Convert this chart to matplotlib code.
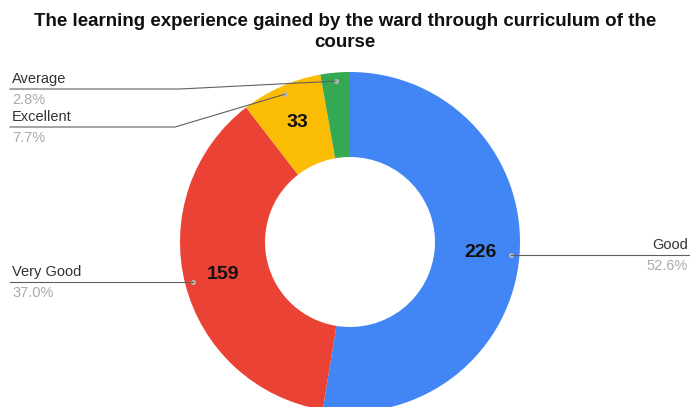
import numpy as np
import matplotlib
matplotlib.use("Agg")
import matplotlib.pyplot as plt
from matplotlib.lines import Line2D

plt.rcParams['font.family'] = ['Liberation Sans', 'DejaVu Sans']

# Data
categories = ["Good", "Very Good", "Excellent", "Average"]
values = [226, 159, 33, 12]
colors = ["#4285F4", "#EA4335", "#FBBC04", "#34A853"]
title = "The learning experience gained by the ward through curriculum of the\ncourse"

W, H = 690, 407
fig = plt.figure(figsize=(W / 100, H / 100), dpi=100)


def fx(x):
    return x / W


def fy(y):
    return 1 - y / H


# donut: centre (350, 242) px, radius 170 px
ax = fig.add_axes([fx(180), fy(412), 340 / W, 340 / H])
ax.axis("off")

wedges, _ = ax.pie(
    values,
    colors=colors,
    startangle=90,
    counterclock=False,
    radius=1,
    wedgeprops=dict(width=0.5, linewidth=0),
)
ax.set_xlim(-1, 1)
ax.set_ylim(-1, 1)
ax.set_aspect("auto")

# value labels inside ring
for w, v in zip(wedges, values):
    if v < 20:
        continue
    ang = np.deg2rad((w.theta1 + w.theta2) / 2)
    ax.text(0.77 * np.cos(ang), 0.77 * np.sin(ang), str(v), ha="center", va="center",
            fontsize=14, fontweight="bold", color="#111111")

fig.canvas.draw()
total = sum(values)

# leader lines and outside labels (side, knee x, line y; None -> dot y)
layout = {
    "Good": ("right", None, None),
    "Very Good": ("left", None, None),
    "Excellent": ("left", 175, 127),
    "Average": ("left", 180, 89),
}

for w, name, v in zip(wedges, categories, values):
    ang = np.deg2rad((w.theta1 + w.theta2) / 2)
    dx, dy = ax.transData.transform((0.95 * np.cos(ang), 0.95 * np.sin(ang)))
    dot_x, dot_y = dx, H - dy
    side, knee_x, line_y = layout[name]
    if line_y is None:
        line_y = dot_y
    if knee_x is None:
        knee_x = dot_x
    fig.add_artist(Line2D([fx(dot_x)], [fy(dot_y)], marker="o", markersize=2.5,
                          color="#b8b8b8", linestyle="none"))
    if side == "right":
        xs = [dot_x, knee_x, W]
        tx, ha = W - 2, "right"
    else:
        xs = [dot_x, knee_x, 10]
        tx, ha = 12, "left"
    ys = [dot_y, line_y, line_y]
    fig.add_artist(Line2D([fx(x) for x in xs], [fy(y) for y in ys],
                          color="#5f5f5f", linewidth=0.8))
    pct = "{:.1f}%".format(100 * v / total)
    fig.text(fx(tx), fy(line_y - 3), name, ha=ha, va="bottom",
             fontsize=10.5, color="#333333")
    fig.text(fx(tx), fy(line_y + 4), pct, ha=ha, va="top",
             fontsize=10.5, color="#aaaaaa")

fig.text(0.5, fy(13), title, ha="center", va="top", fontsize=13.5,
         fontweight="bold", color="#111111", linespacing=1.3)

fig.savefig("out.png", dpi=100)
